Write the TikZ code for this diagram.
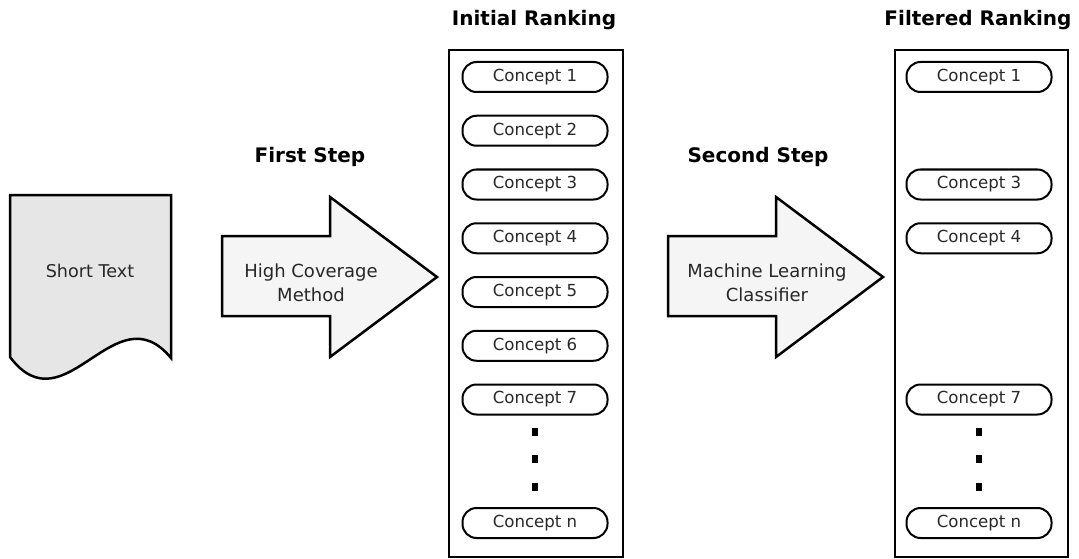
\documentclass[tikz,border=0pt]{standalone}
\usepackage{fontspec}
\setmainfont{DejaVu Sans}
\usepackage{tikz}
\usetikzlibrary{positioning, calc}
\definecolor{docgray}{RGB}{230, 230, 230}
\definecolor{arrowgray}{RGB}{245, 245, 245}
\definecolor{textgray}{RGB}{40, 40, 40}
\tikzset{
  concept/.style={rectangle, draw=black, fill=white, line width=2pt, rounded corners=14pt, minimum width=145pt, minimum height=30pt, inner sep=0pt, font=\fontsize{16.6}{19}\selectfont, text=textgray},
  rankbox/.style={draw=black, line width=2.5pt, fill=white},
  stepshape/.style={draw=black, line width=2.5pt, fill=arrowgray, line join=miter},
  heading/.style={font=\bfseries\fontsize{20}{24}\selectfont},
  steptext/.style={align=center, font=\fontsize{18}{24}\selectfont, text=textgray},
  vdot/.style={fill=black, minimum width=6pt, minimum height=8pt, inner sep=0pt}
}
\begin{document}
\begin{tikzpicture}[x=1pt, y=-1pt]
    \useasboundingbox (0,0) rectangle (1079,559);

    % Short text document
    \draw[draw=black, line width=2.5pt, fill=docgray] (10,195) -- (171,195) -- (171,358)
        .. controls (115,290) and (65,430) .. (10,357) -- cycle;
    \node[font=\fontsize{17.6}{21}\selectfont, text=textgray] (short) at (90,271) {Short Text};

    % First step
    \node[heading] (firststep) at (310,157) {First Step};
    \draw[stepshape] (222,236) -- (330,236) -- (330,197) -- (437,277) -- (330,357) -- (330,316) -- (222,316) -- cycle;
    \node[steptext] (coverage) at (311,283) {High Coverage\\Method};

    % Initial ranking
    \node[heading] (initial) at (534,20) {Initial Ranking};
    \draw[rankbox] (449,50) rectangle (623,557);
    \foreach \k in {1,...,7}
        \node[concept] (ic\k) at (535,{77+53.75*(\k-1)}) {Concept \k};
    \node[concept] (icn) at (535,523) {Concept n};
    \foreach \y [count=\i] in {432,459,487}
        \node[vdot] (idot\i) at (535,\y) {};

    % Second step
    \node[heading] (secondstep) at (758,157) {Second Step};
    \draw[stepshape] (668,236) -- (776,236) -- (776,197) -- (883,277) -- (776,357) -- (776,316) -- (668,316) -- cycle;
    \node[steptext] (classifier) at (767,283) {Machine Learning\\Classifier};

    % Filtered ranking
    \node[heading] (filtered) at (978,20) {Filtered Ranking};
    \draw[rankbox] (895,50) rectangle (1068,557);
    \foreach \k in {1,3,4,7}
        \node[concept] (fc\k) at (979,{77+53.75*(\k-1)}) {Concept \k};
    \node[concept] (fcn) at (979,523) {Concept n};
    \foreach \y [count=\i] in {432,459,487}
        \node[vdot] (fdot\i) at (979,\y) {};
\end{tikzpicture}
\end{document}
